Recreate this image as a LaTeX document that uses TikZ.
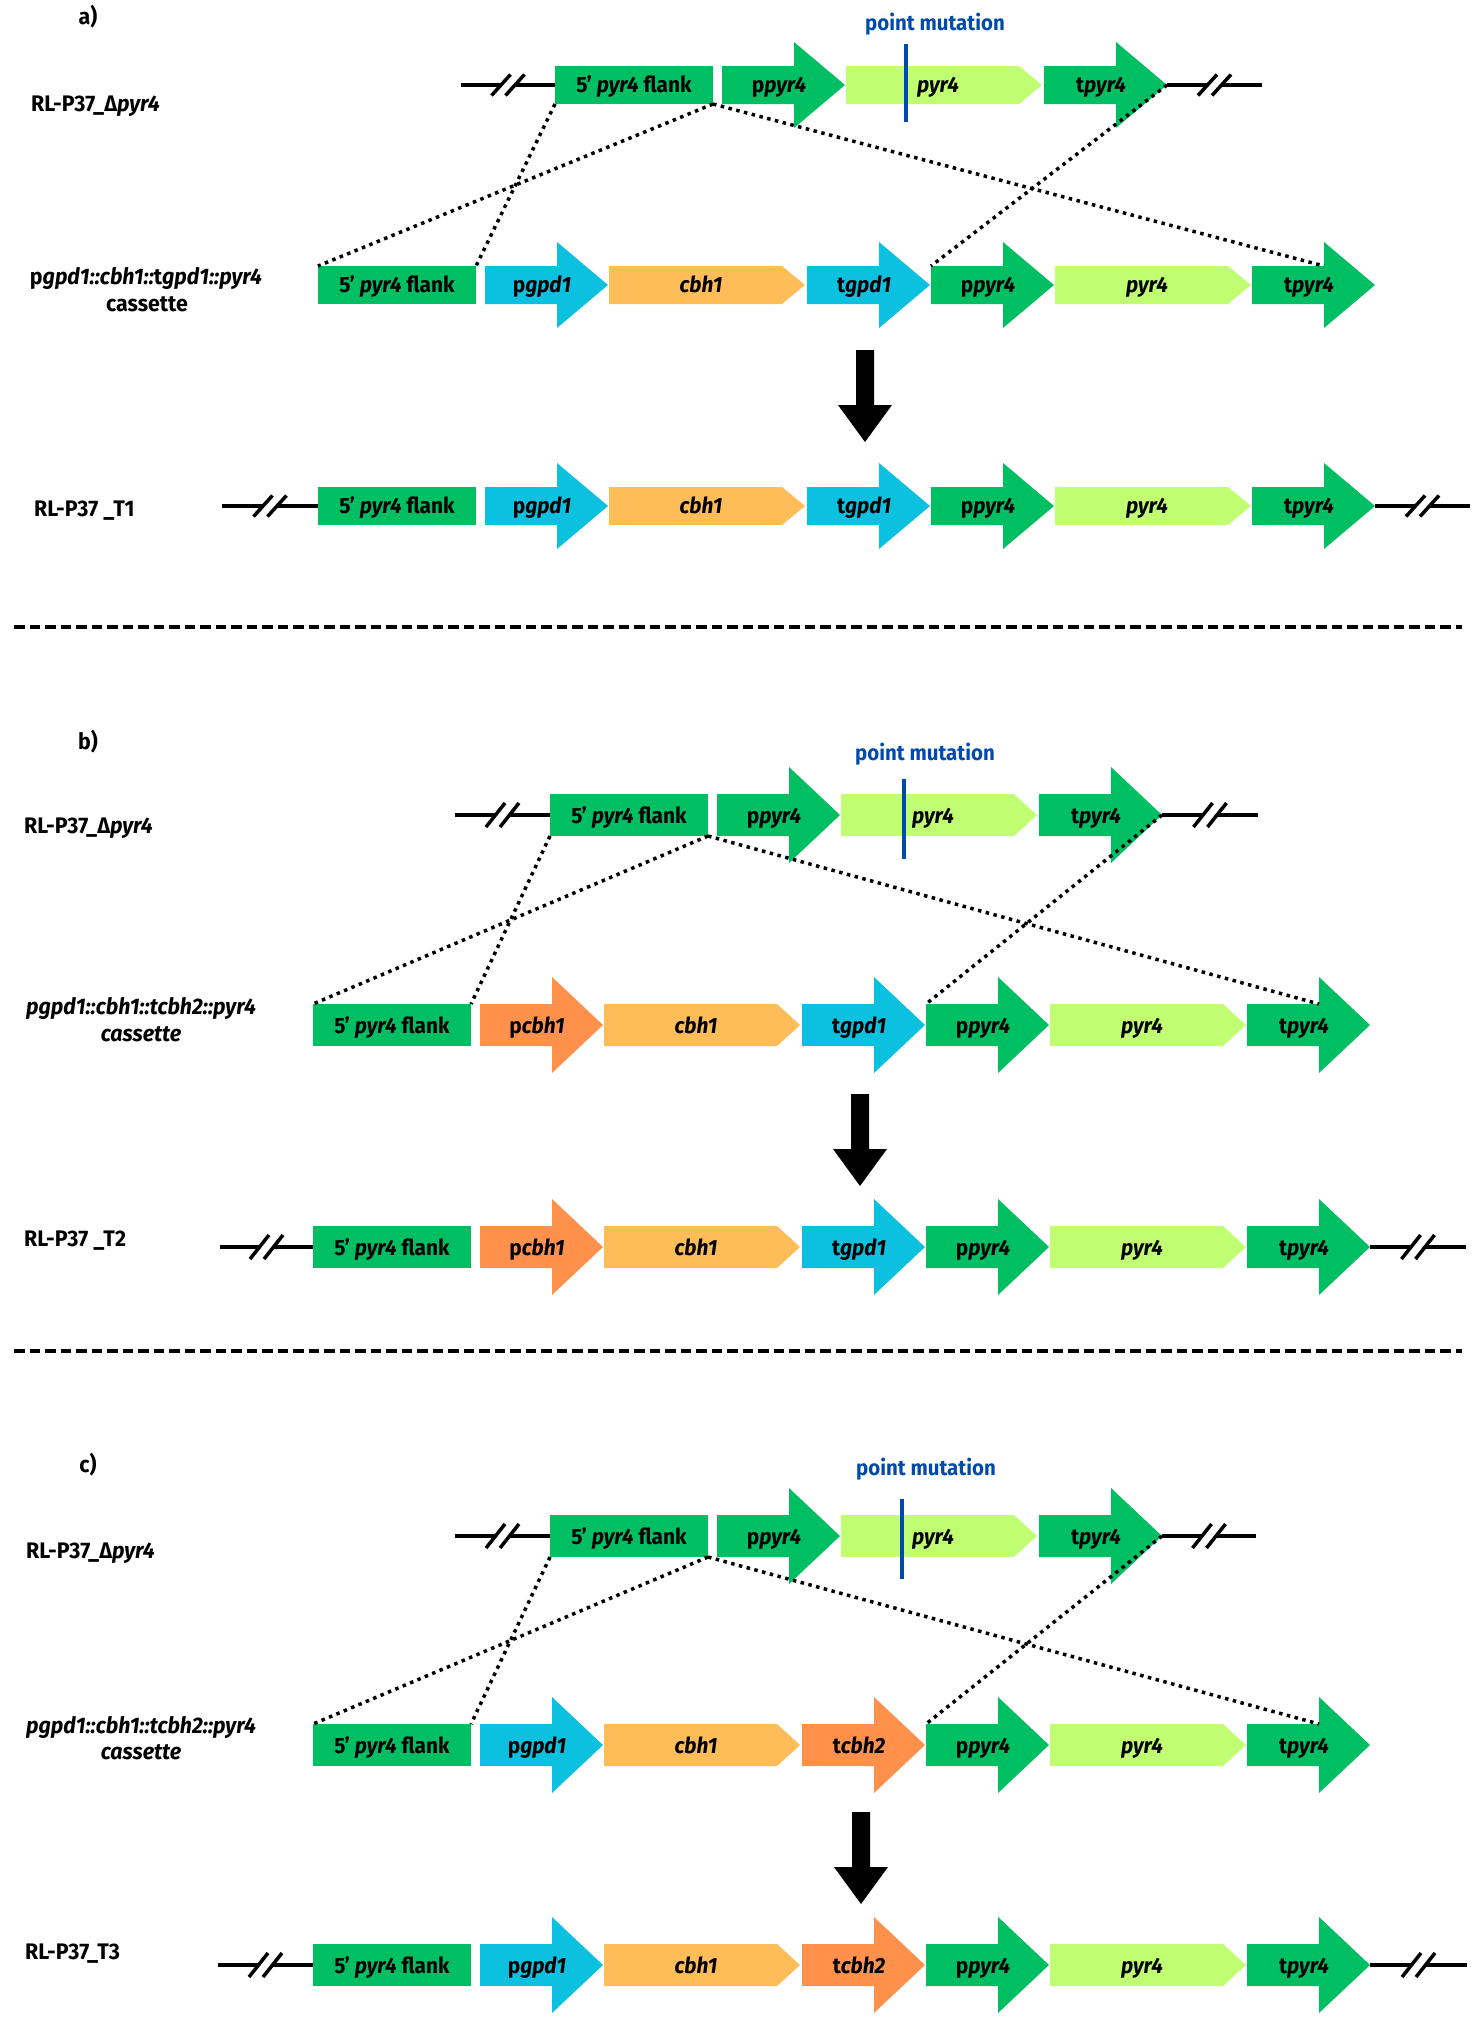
\documentclass[tikz,border=0pt]{standalone}
\usepackage{fontspec}
\setmainfont{Fira Sans}[FakeStretch=0.95]
\usetikzlibrary{calc}
\definecolor{gGreen}{HTML}{00BF63}
\definecolor{gLight}{HTML}{C1FF72}
\definecolor{gCyan}{HTML}{0CC0DF}
\definecolor{gOrange}{HTML}{FFBD59}
\definecolor{gDark}{HTML}{FF914D}
\definecolor{gBlue}{HTML}{004AAD}
\def\GbodyH{19}
\def\GheadH{43}
\def\GtextOff{7.5}
\def\GslashH{10.5}
\tikzset{
  boxtxt/.style={font=\fontsize{22}{26}\selectfont\bfseries, inner sep=0pt, anchor=base},
  sidetxt/.style={font=\fontsize{22.5}{27}\selectfont\bfseries, inner sep=0pt, anchor=base west},
  sidetxtc/.style={font=\fontsize{22.5}{27}\selectfont\bfseries, inner sep=0pt, anchor=base},
  muttxt/.style={font=\fontsize{21.5}{26}\selectfont\bfseries, text=gBlue, inner sep=0pt, anchor=base},
  dotline/.style={line width=3.5pt, dash pattern=on 3.5pt off 4.5pt},
  brkline/.style={line width=4pt},
  sepline/.style={line width=3.5pt, dash pattern=on 10.5pt off 5pt},
  mutline/.style={draw=gBlue, line width=4pt},
  pics/flank/.style={code={
    \fill[gGreen] (0,-\GbodyH) rectangle (158,\GbodyH);
    \coordinate (-tl) at (0,-\GbodyH);
    \coordinate (-tr) at (158,-\GbodyH);
    \coordinate (-bl) at (0,\GbodyH);
    \coordinate (-br) at (158,\GbodyH);
    \coordinate (-w) at (0,0);
    \node[boxtxt] (-t) at (79,\GtextOff) {5' \textit{pyr4} flank};
  }},
  pics/garrow/.style 2 args={code={
    \fill[#1] (0,-\GbodyH) -- (72,-\GbodyH) -- (72,-\GheadH) -- (123,0) -- (72,\GheadH) -- (72,\GbodyH) -- (0,\GbodyH) -- cycle;
    \coordinate (-tl) at (0,-\GbodyH);
    \coordinate (-hb) at (72,-\GbodyH);
    \coordinate (-tip) at (123,0);
    \node[boxtxt] (-t) at (57,\GtextOff) {#2};
  }},
  pics/gpoint/.style 2 args={code={
    \fill[#1] (0,-\GbodyH) -- (173,-\GbodyH) -- (196,0) -- (173,\GbodyH) -- (0,\GbodyH) -- cycle;
    \coordinate (-tl) at (0,-\GbodyH);
    \node[boxtxt] (-t) at (92,\GtextOff) {#2};
  }},
  pics/bigdown/.style={code={
    \fill[black] (-9,0) -- (9,0) -- (9,55) -- (27,55) -- (0,92) -- (-27,55) -- (-9,55) -- cycle;
  }},
}
\newcommand\CassRow[7]{%
  \pic (#1f) at (#2,#3) {flank};
  \pic (#1a) at ({#2+167},#3) {garrow={#4}{#5}};
  \pic (#1b) at ({#2+291},#3) {gpoint={gOrange}{\textit{cbh1}}};
  \pic (#1c) at ({#2+489},#3) {garrow={#6}{#7}};
  \pic (#1d) at ({#2+613},#3) {garrow={gGreen}{p\textit{pyr4}}};
  \pic (#1e) at ({#2+737},#3) {gpoint={gLight}{\textit{pyr4}}};
  \pic (#1g) at ({#2+934},#3) {garrow={gGreen}{t\textit{pyr4}}};
}
\newcommand\TopRow[3]{%
  \pic (#1f) at (#2,#3) {flank};
  \pic (#1a) at ({#2+167},#3) {garrow={gGreen}{p\textit{pyr4}}};
  \pic (#1b) at ({#2+291},#3) {gpoint={gLight}{\textit{pyr4}}};
  \pic (#1c) at ({#2+489},#3) {garrow={gGreen}{t\textit{pyr4}}};
}
\newcommand\BrkSeg[2]{%
  \draw[brkline] (#1) -- ($(#1)!0.5!(#2)+(-7,0)$);
  \draw[brkline] ($(#1)!0.5!(#2)+(7,0)$) -- (#2);
  \draw[line width=3.5pt] ($(#1)!0.5!(#2)+(-16.5,\GslashH)$) -- ($(#1)!0.5!(#2)+(2.5,-\GslashH)$);
  \draw[line width=3.5pt] ($(#1)!0.5!(#2)+(-2.5,\GslashH)$) -- ($(#1)!0.5!(#2)+(16.5,-\GslashH)$);
}
\newcommand\Cross[3]{% top prefix, cassette prefix
  \draw[dotline] (#1f-bl) -- (#2f-tr);
  \draw[dotline] (#1f-br) -- (#2f-tl);
  \draw[dotline] (#1f-br) -- (#2g-hb);
  \draw[dotline] (#1c-tip) -- (#2d-tl);
}
\begin{document}
\begin{tikzpicture}[x=1pt,y=-1pt]
\useasboundingbox (0,0) rectangle (1481,2024);
\fill[white] (0,0) rectangle (1481,2024);

% ================= Panel a =================
\node[sidetxtc] (la) at (88,24) {a)};
\node[sidetxt] (a1lab) at (31,111) {RL-P37\_Δ\textit{pyr4}};
\node[sidetxtc] (a2lab) at (146,284) {p\textit{gpd1::cbh1::}t\textit{gpd1::pyr4}};
\node[sidetxtc] (a2lab2) at (147,311) {cassette};
\node[sidetxt] (a3lab) at (34,516) {RL-P37 \_T1};

\TopRow{a1}{555}{85}
\coordinate (a1L) at (461,85);
\coordinate (a1R) at (1262,85);
\BrkSeg{a1L}{a1f-w}
\BrkSeg{a1c-tip}{a1R}
\coordinate (a1m1) at (906,44);
\coordinate (a1m2) at (906,122);
\draw[mutline] (a1m1) -- (a1m2);
\node[muttxt] (a1mt) at (935,30) {point mutation};

\CassRow{a2}{318}{285}{gCyan}{p\textit{gpd1}}{gCyan}{t\textit{gpd1}}
\Cross{a1}{a2}{}

\pic (aarr) at (865,350) {bigdown};

\CassRow{a3}{318}{506}{gCyan}{p\textit{gpd1}}{gCyan}{t\textit{gpd1}}
\coordinate (a3L) at (222,506);
\coordinate (a3R) at (1470,506);
\BrkSeg{a3L}{a3f-w}
\BrkSeg{a3g-tip}{a3R}

\coordinate (sepa1) at (14,627);
\coordinate (sepa2) at (1462,627);
\draw[sepline] (sepa1) -- (sepa2);

% ================= Panel b =================
\def\GbodyH{21}\def\GheadH{48}\def\GtextOff{8.5}\def\GslashH{12}
\node[sidetxtc] (lb) at (88,749) {b)};
\node[sidetxt] (b1lab) at (24,833) {RL-P37\_Δ\textit{pyr4}};
\node[sidetxtc] (b2lab) at (141,1014) {\textit{pgpd1::cbh1::tcbh2::pyr4}};
\node[sidetxtc] (b2lab2) at (141,1041) {\textit{cassette}};
\node[sidetxt] (b3lab) at (24,1246) {RL-P37 \_T2};

\TopRow{b1}{550}{815}
\coordinate (b1L) at (455,815);
\coordinate (b1R) at (1258,815);
\BrkSeg{b1L}{b1f-w}
\BrkSeg{b1c-tip}{b1R}
\coordinate (b1m1) at (904,779);
\coordinate (b1m2) at (904,859);
\draw[mutline] (b1m1) -- (b1m2);
\node[muttxt] (b1mt) at (925,760) {point mutation};

\CassRow{b2}{313}{1025}{gDark}{p\textit{cbh1}}{gCyan}{t\textit{gpd1}}
\Cross{b1}{b2}{}

\pic (barr) at (860,1094) {bigdown};

\CassRow{b3}{313}{1247}{gDark}{p\textit{cbh1}}{gCyan}{t\textit{gpd1}}
\coordinate (b3L) at (220,1247);
\coordinate (b3R) at (1466,1247);
\BrkSeg{b3L}{b3f-w}
\BrkSeg{b3g-tip}{b3R}

\coordinate (sepb1) at (14,1351);
\coordinate (sepb2) at (1462,1351);
\draw[sepline] (sepb1) -- (sepb2);

% ================= Panel c =================
\node[sidetxtc] (lc) at (88,1472) {c)};
\node[sidetxt] (c1lab) at (26,1558) {RL-P37\_Δ\textit{pyr4}};
\node[sidetxtc] (c2lab) at (141,1733) {\textit{pgpd1::cbh1::tcbh2::pyr4}};
\node[sidetxtc] (c2lab2) at (141,1759) {\textit{cassette}};
\node[sidetxt] (c3lab) at (25,1959) {RL-P37\_T3};

\TopRow{c1}{550}{1536}
\coordinate (c1L) at (455,1536);
\coordinate (c1R) at (1256,1536);
\BrkSeg{c1L}{c1f-w}
\BrkSeg{c1c-tip}{c1R}
\coordinate (c1m1) at (902,1499);
\coordinate (c1m2) at (902,1579);
\draw[mutline] (c1m1) -- (c1m2);
\node[muttxt] (c1mt) at (926,1475) {point mutation};

\CassRow{c2}{313}{1745}{gCyan}{p\textit{gpd1}}{gDark}{t\textit{cbh2}}
\Cross{c1}{c2}{}

\pic (carr) at (861,1812) {bigdown};

\CassRow{c3}{313}{1965}{gCyan}{p\textit{gpd1}}{gDark}{t\textit{cbh2}}
\coordinate (c3L) at (218,1965);
\coordinate (c3R) at (1467,1965);
\BrkSeg{c3L}{c3f-w}
\BrkSeg{c3g-tip}{c3R}
\end{tikzpicture}
\end{document}
